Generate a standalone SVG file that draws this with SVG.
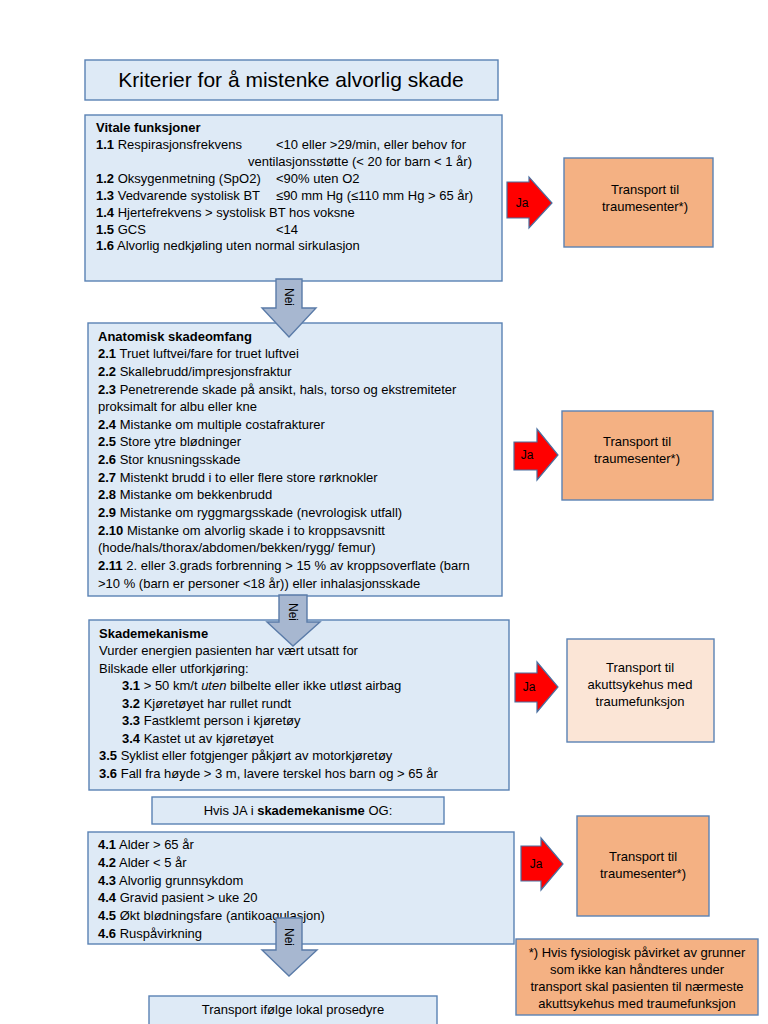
<svg xmlns="http://www.w3.org/2000/svg" width="768" height="1024" viewBox="0 0 768 1024">
<style>
text{font-family:"Liberation Sans",Arial,sans-serif;fill:#000;}
.box{fill:#DEEAF6;stroke:#5A82B4;stroke-width:1.4;}
.org{fill:#F4B183;stroke:#5A82B4;stroke-width:1.4;}
.lorg{fill:#FBE5D6;stroke:#5A82B4;stroke-width:1.4;}
.t{font-size:13px;}
.c{font-size:13px;text-anchor:middle;}
.b{font-weight:bold;}
.down{fill:#A7B7D0;stroke:#5A7BA8;stroke-width:1.4;}
.ja{fill:#FF0000;stroke:#4A6FA0;stroke-width:1.2;}
.lbl{font-size:12px;text-anchor:middle;}
</style>
<rect width="768" height="1024" fill="#fff"/>
<g id="title">
<rect class="box" x="85" y="60" width="413" height="40"/>
<text x="291" y="87" style="font-size:21px;text-anchor:middle">Kriterier for å mistenke alvorlig skade</text>
</g>
<g id="vitale">
<rect class="box" x="85" y="115" width="417" height="166"/>
<text class="t" x="96" y="132"><tspan class="b">Vitale funksjoner</tspan></text>
<text class="t" x="96" y="149"><tspan class="b">1.1</tspan> Respirasjonsfrekvens</text>
<text class="t" x="276" y="149">&lt;10 eller &gt;29/min, eller behov for</text>
<text class="t" x="472" y="166" text-anchor="end">ventilasjonsstøtte (&lt; 20 for barn &lt; 1 år)</text>
<text class="t" x="96" y="183"><tspan class="b">1.2</tspan> Oksygenmetning (SpO2)</text>
<text class="t" x="276" y="183">&lt;90% uten O2</text>
<text class="t" x="96" y="200"><tspan class="b">1.3</tspan> Vedvarende systolisk BT</text>
<text class="t" x="276" y="200">≤90 mm Hg (≤110 mm Hg &gt; 65 år)</text>
<text class="t" x="96" y="217"><tspan class="b">1.4</tspan> Hjertefrekvens &gt; systolisk BT hos voksne</text>
<text class="t" x="96" y="234"><tspan class="b">1.5</tspan> GCS</text>
<text class="t" x="276" y="234">&lt;14</text>
<text class="t" x="96" y="250"><tspan class="b">1.6</tspan> Alvorlig nedkjøling uten normal sirkulasjon</text>
</g>
<g id="traume1">
<rect class="org" x="564" y="158" width="149" height="89"/>
<text class="c" x="645" y="194">Transport til</text>
<text class="c" x="645" y="211">traumesenter*)</text>
</g>
<g id="anatomisk">
<rect class="box" x="88" y="323" width="414" height="273"/>
<text class="t" x="98" y="341"><tspan class="b">Anatomisk skadeomfang</tspan></text>
<text class="t" x="98" y="358"><tspan class="b">2.1</tspan> Truet luftvei/fare for truet luftvei</text>
<text class="t" x="98" y="376"><tspan class="b">2.2</tspan> Skallebrudd/impresjonsfraktur</text>
<text class="t" x="98" y="394"><tspan class="b">2.3</tspan> Penetrerende skade på ansikt, hals, torso og ekstremiteter</text>
<text class="t" x="98" y="411">proksimalt for albu eller kne</text>
<text class="t" x="98" y="429"><tspan class="b">2.4</tspan> Mistanke om multiple costafrakturer</text>
<text class="t" x="98" y="446"><tspan class="b">2.5</tspan> Store ytre blødninger</text>
<text class="t" x="98" y="464"><tspan class="b">2.6</tspan> Stor knusningsskade</text>
<text class="t" x="98" y="482"><tspan class="b">2.7</tspan> Mistenkt brudd i to eller flere store rørknokler</text>
<text class="t" x="98" y="499"><tspan class="b">2.8</tspan> Mistanke om bekkenbrudd</text>
<text class="t" x="98" y="517"><tspan class="b">2.9</tspan> Mistanke om ryggmargsskade (nevrologisk utfall)</text>
<text class="t" x="98" y="535"><tspan class="b">2.10</tspan> Mistanke om alvorlig skade i to kroppsavsnitt</text>
<text class="t" x="98" y="552">(hode/hals/thorax/abdomen/bekken/rygg/ femur)</text>
<text class="t" x="98" y="570"><tspan class="b">2.11</tspan> 2. eller 3.grads forbrenning &gt; 15 % av kroppsoverflate (barn</text>
<text class="t" x="98" y="588">&gt;10 % (barn er personer &lt;18 år)) eller inhalasjonsskade</text>
</g>
<g id="traume2">
<rect class="org" x="562" y="411" width="151" height="89"/>
<text class="c" x="637" y="446">Transport til</text>
<text class="c" x="637" y="463">traumesenter*)</text>
</g>
<g id="skademekanisme">
<rect class="box" x="89" y="620" width="420" height="170"/>
<text class="t" x="99" y="638"><tspan class="b">Skademekanisme</tspan></text>
<text class="t" x="99" y="655">Vurder energien pasienten har vært utsatt for</text>
<text class="t" x="99" y="673">Bilskade eller utforkjøring:</text>
<text class="t" x="122" y="690"><tspan class="b">3.1</tspan> &gt; 50 km/t <tspan font-style="italic">uten</tspan> bilbelte eller ikke utløst airbag</text>
<text class="t" x="122" y="708"><tspan class="b">3.2</tspan> Kjøretøyet har rullet rundt</text>
<text class="t" x="122" y="725"><tspan class="b">3.3</tspan> Fastklemt person i kjøretøy</text>
<text class="t" x="122" y="743"><tspan class="b">3.4</tspan> Kastet ut av kjøretøyet</text>
<text class="t" x="99" y="760"><tspan class="b">3.5</tspan> Syklist eller fotgjenger påkjørt av motorkjøretøy</text>
<text class="t" x="99" y="778"><tspan class="b">3.6</tspan> Fall fra høyde &gt; 3 m, lavere terskel hos barn og &gt; 65 år</text>
</g>
<g id="akutt">
<rect class="lorg" x="567" y="639" width="147" height="103"/>
<text class="c" x="640" y="672">Transport til</text>
<text class="c" x="640" y="689">akuttsykehus med</text>
<text class="c" x="640" y="706">traumefunksjon</text>
</g>
<g id="hvisja">
<rect class="box" x="152" y="797" width="292" height="27"/>
<text class="c" x="298" y="815">Hvis JA i <tspan class="b">skademekanisme</tspan> OG:</text>
</g>
<g id="tillegg">
<rect class="box" x="88" y="832" width="426" height="112"/>
<text class="t" x="98" y="849"><tspan class="b">4.1</tspan> Alder &gt; 65 år</text>
<text class="t" x="98" y="867"><tspan class="b">4.2</tspan> Alder &lt; 5 år</text>
<text class="t" x="98" y="885"><tspan class="b">4.3</tspan> Alvorlig grunnsykdom</text>
<text class="t" x="98" y="902"><tspan class="b">4.4</tspan> Gravid pasient &gt; uke 20</text>
<text class="t" x="98" y="920"><tspan class="b">4.5</tspan> Økt blødningsfare (antikoagulasjon)</text>
<text class="t" x="98" y="938"><tspan class="b">4.6</tspan> Ruspåvirkning</text>
</g>
<g id="traume4">
<rect class="org" x="577" y="816" width="132" height="100"/>
<text class="c" x="643" y="861">Transport til</text>
<text class="c" x="643" y="878">traumesenter*)</text>
</g>
<g id="fotnote">
<rect class="org" x="516" y="939" width="242" height="76"/>
<text class="c" x="637" y="957">*) Hvis fysiologisk påvirket av grunner</text>
<text class="c" x="637" y="974">som ikke kan håndteres under</text>
<text class="c" x="637" y="991">transport skal pasienten til nærmeste</text>
<text class="c" x="637" y="1008">akuttsykehus med traumefunksjon</text>
</g>
<g id="lokal">
<rect class="box" x="149" y="996" width="288" height="40"/>
<text class="c" x="293" y="1014">Transport ifølge lokal prosedyre</text>
</g>
<g id="connectors">
<polygon class="down" points="276,279 302,279 302,308 316,308 289,337 262,308 276,308"/>
<text class="lbl" transform="translate(285,297) rotate(90)">Nei</text>
<polygon class="down" points="279,595 307,595 307,622 320,622 293,646 267,622 279,622"/>
<text class="lbl" transform="translate(289,612) rotate(90)">Nei</text>
<polygon class="down" points="276,918 302,918 302,950 317,950 289,976 262,950 276,950"/>
<text class="lbl" transform="translate(285,937) rotate(90)">Nei</text>
<polygon class="ja" points="507,182 529,182 529,177 552,203 529,228 529,218 507,218"/>
<text class="lbl" x="522" y="207">Ja</text>
<polygon class="ja" points="514,442 537,442 537,429 558,455 537,480 537,470 514,470"/>
<text class="lbl" x="527" y="459">Ja</text>
<polygon class="ja" points="515,673 537,673 537,662 558,687 537,712 537,702 515,702"/>
<text class="lbl" x="529" y="691">Ja</text>
<polygon class="ja" points="521,846 541,846 541,838 563,864 541,890 541,881 521,881"/>
<text class="lbl" x="536" y="868">Ja</text>
</g>
</svg>
